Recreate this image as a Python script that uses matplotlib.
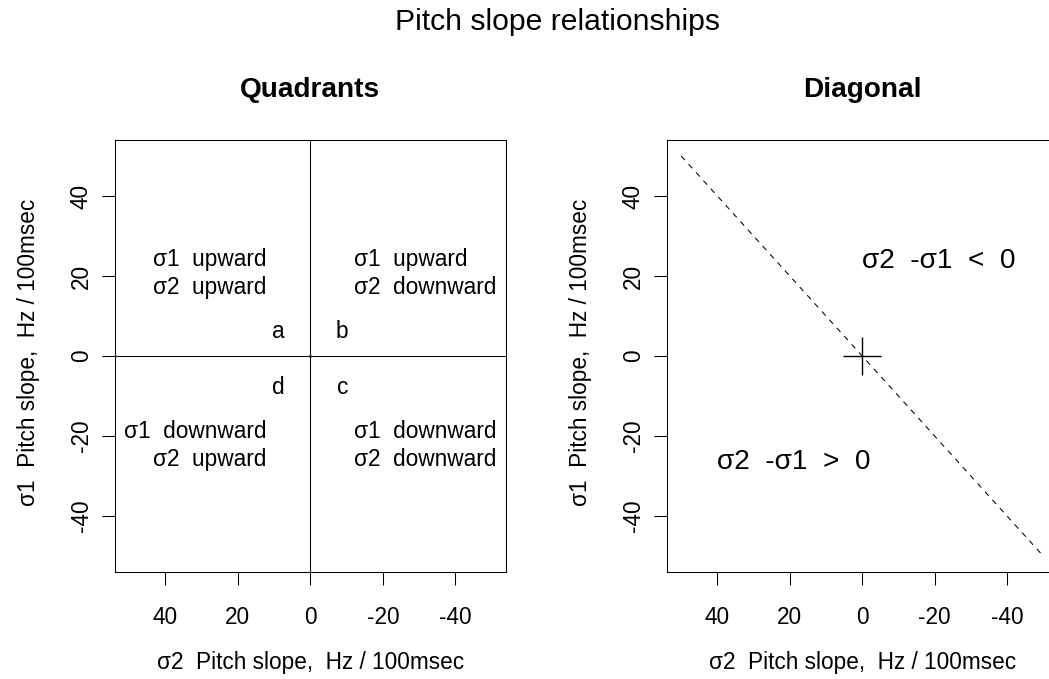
import matplotlib
matplotlib.use("Agg")
import matplotlib.pyplot as plt

plt.rcParams['font.family'] = ['Liberation Sans', 'DejaVu Sans']

# ---- data -------------------------------------------------------------
tick_values = [40, 20, 0, -20, -40]
axis_limit = 54

quadrant_upper_left = ["σ1  upward", "σ2  upward"]
quadrant_upper_right = ["σ1  upward", "σ2  downward"]
quadrant_lower_left = ["σ1  downward", "σ2  upward"]
quadrant_lower_right = ["σ1  downward", "σ2  downward"]
quadrant_text_x = [12, -12]          # right edge (left side) / left edge (right side)
upper_rows_y = [22.5, 15.5]
lower_rows_y = [-20.6, -27.5]

corner_letters = ["a", "b", "c", "d"]
corner_x = [8.8, -8.8, -8.8, 8.8]
corner_y = [4.5, 4.5, -9.5, -9.5]

diagonal_x = [50, -50]
diagonal_y = [50, -50]
origin = (0, 0)

region_labels = ["σ2  -σ1  <  0", "σ2  -σ1  >  0"]
region_x = [0, 40]
region_y = [22.1, -28.2]

main_title = "Pitch slope relationships"
panel_titles = ["Quadrants", "Diagonal"]
x_label = "σ2  Pitch slope,  Hz / 100msec"
y_label = "σ1  Pitch slope,  Hz / 100msec"

# ---- layout -----------------------------------------------------------
W, H, DPI = 1049, 679, 100
fig = plt.figure(figsize=(W / DPI, H / DPI), dpi=DPI, facecolor="white")

def fx(px):
    return px / W

def fy(py):
    return 1 - py / H

def px_axes(left, top, right, bottom):
    return fig.add_axes([fx(left), fy(bottom), (right - left) / W, (bottom - top) / H])

LABEL_SIZE = 16.3
LINE_W = 0.75

def style_axes(ax):
    ax.set_xlim(axis_limit, -axis_limit)
    ax.set_ylim(-axis_limit, axis_limit)
    ax.set_xticks(tick_values)
    ax.set_xticklabels([str(v) for v in tick_values])
    ax.set_yticks(tick_values)
    ax.set_yticklabels([str(v) for v in tick_values])
    for s in ax.spines.values():
        s.set_linewidth(LINE_W)
        s.set_color("black")
    ax.tick_params(direction="out", length=9.4, width=LINE_W, colors="black",
                   labelsize=LABEL_SIZE)
    ax.tick_params(axis="x", pad=14.8)
    ax.tick_params(axis="y", pad=6.3, labelrotation=90)
    for lbl in ax.get_yticklabels():
        lbl.set_va("center")
    ax.set_facecolor("white")

ax1 = px_axes(114.7, 140, 506, 572)
ax2 = px_axes(666.7, 140, 1057.7, 572)
style_axes(ax1)
style_axes(ax2)

# ---- left panel: quadrants -------------------------------------------
ax1.axvline(0, color="black", lw=LINE_W)
ax1.axhline(0, color="black", lw=LINE_W)
ax1.plot([origin[0]], [origin[1]], marker=".", ms=2, color="black")

for lines, x, ys, ha in [
    (quadrant_upper_left, quadrant_text_x[0], upper_rows_y, "right"),
    (quadrant_upper_right, quadrant_text_x[1], upper_rows_y, "left"),
    (quadrant_lower_left, quadrant_text_x[0], lower_rows_y, "right"),
    (quadrant_lower_right, quadrant_text_x[1], lower_rows_y, "left"),
]:
    for txt, y in zip(lines, ys):
        ax1.text(x, y, txt, ha=ha, va="baseline", fontsize=LABEL_SIZE)

for letter, x, y in zip(corner_letters, corner_x, corner_y):
    ax1.text(x, y, letter, ha="center", va="baseline", fontsize=LABEL_SIZE)

# ---- right panel: diagonal -------------------------------------------
ax2.plot(diagonal_x, diagonal_y, color="black", lw=LINE_W, dashes=(5.3, 5.3))
ax2.plot([origin[0]], [origin[1]], marker="+", ms=28, mew=1.0, color="black")
for txt, x, y in zip(region_labels, region_x, region_y):
    ax2.text(x, y, txt, ha="left", va="baseline", fontsize=20.2)

# ---- titles and axis labels ------------------------------------------
fig.text(fx(557.5), fy(30), main_title, ha="center", va="baseline", fontsize=21.7)

for ax, title in zip([ax1, ax2], panel_titles):
    pos = ax.get_position()
    cx = (pos.x0 + pos.x1) / 2
    fig.text(cx, fy(97.3), title, ha="center", va="baseline",
             fontsize=20.2, fontweight="bold")
    fig.text(cx, fy(669), x_label, ha="center", va="baseline", fontsize=LABEL_SIZE)

for base_x in [35, 587]:
    fig.text(fx(base_x), fy(352), y_label, ha="center", va="baseline",
             rotation=90, rotation_mode="anchor", fontsize=LABEL_SIZE)

fig.savefig("out.png", dpi=DPI, facecolor="white")
